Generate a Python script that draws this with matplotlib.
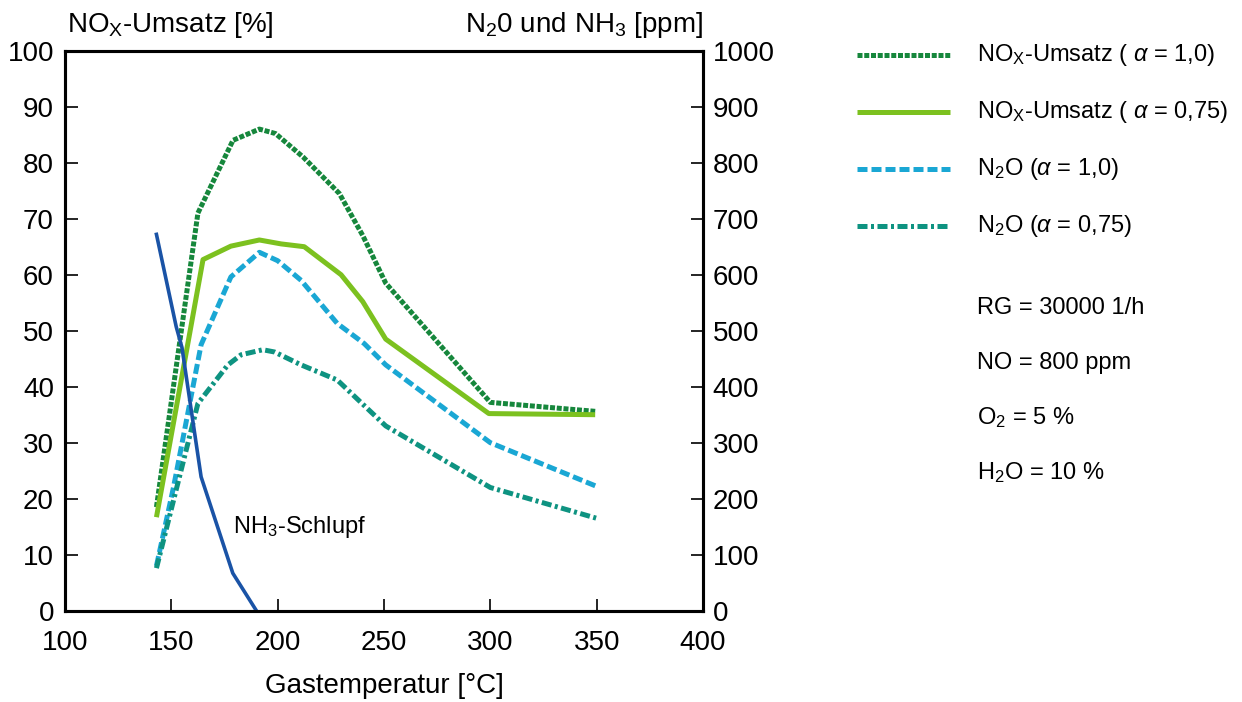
import matplotlib
matplotlib.use('Agg')
import matplotlib.pyplot as plt
from matplotlib.lines import Line2D

plt.rcParams['font.family'] = ['Liberation Sans', 'DejaVu Sans']
plt.rcParams['mathtext.fontset'] = 'custom'
plt.rcParams['mathtext.rm'] = 'Liberation Sans'
plt.rcParams['mathtext.it'] = 'Liberation Sans:italic'

# Gastemperatur [°C] and readings
nox_10_t = [143, 162.5, 179, 191.4, 199, 212, 229, 240, 250.8, 300, 349.3]
nox_10 = [18.5, 71, 84, 86, 85.2, 81, 74.5, 67, 58.5, 37.2, 35.6]

nox_075_t = [143, 164.9, 178, 191.4, 201.6, 212.5, 229.8, 240, 250.8, 299.3, 349.3]
nox_075 = [16.7, 62.7, 65.1, 66.2, 65.5, 65, 60, 55.2, 48.5, 35.2, 35.0]

# N2O in ppm
n2o_10_t = [143, 151, 164, 178, 191.4, 200, 211, 228, 240.7, 250.8, 300, 350]
n2o_10 = [80, 220, 475, 596, 640, 625, 590, 513, 477, 439, 300, 222]

n2o_075_t = [143, 162.5, 176.6, 182.8, 193, 198.5, 211, 228, 250.8, 300, 350]
n2o_075 = [76, 370, 439, 457, 466, 462, 439, 412, 330, 220, 165]

# NH3 slip in ppm
nh3_t = [143, 152.3, 155, 164, 178.9, 190]
nh3 = [672, 507, 470, 239, 67, 0]

x_ticks = [100, 150, 200, 250, 300, 350, 400]
left_ticks = list(range(0, 101, 10))
right_ticks = list(range(0, 1001, 100))

legend_labels = [r'NO$_\mathrm{X}$-Umsatz ( $\alpha$ = 1,0)',
                 r'NO$_\mathrm{X}$-Umsatz ( $\alpha$ = 0,75)',
                 r'N$_2$O ($\alpha$ = 1,0)',
                 r'N$_2$O ($\alpha$ = 0,75)']
cond_text = ['RG = 30000 1/h', 'NO = 800 ppm', r'O$_2$ = 5 %', r'H$_2$O = 10 %']

c_dark = '#16873c'
c_light = '#7cc11f'
c_cyan = '#1aa7d4'
c_teal = '#0e9381'
c_blue = '#1a53a6'

styles = [dict(color=c_dark, lw=3.6, dashes=(1, 0.35), dash_capstyle='butt'),
          dict(color=c_light, lw=3.6, solid_capstyle='butt'),
          dict(color=c_cyan, lw=3.6, dashes=(2, 0.8)),
          dict(color=c_teal, lw=3.6, dashes=(2, 0.7, 0.6, 0.7))]

fig = plt.figure(figsize=(12.42, 7.02), dpi=100)
ax = fig.add_axes([65 / 1242, (702 - 610.7) / 702, (703 - 65) / 1242, 560 / 702])
ax2 = ax.twinx()

ax.plot(nox_10_t, nox_10, **styles[0])
ax.plot(nox_075_t, nox_075, **styles[1])
ax2.plot(n2o_10_t, n2o_10, **styles[2])
ax2.plot(n2o_075_t, n2o_075, **styles[3])
ax2.plot(nh3_t, nh3, color=c_blue, lw=2.6)

ax.set_xlim(100, 400)
ax.set_ylim(0, 100)
ax2.set_ylim(0, 1000)
ax.set_xticks(x_ticks)
ax.set_yticks(left_ticks)
ax2.set_yticks(right_ticks)

for a in (ax, ax2):
    for s in a.spines.values():
        s.set_linewidth(2.2)
ax.tick_params(axis='both', direction='in', length=9, width=1.2, labelsize=20)
ax.tick_params(axis='x', pad=14)
ax.tick_params(axis='y', pad=8)
ax2.tick_params(axis='y', direction='in', length=9, width=1.2, labelsize=20, pad=7)

ax.set_xlabel('Gastemperatur [°C]', fontsize=20, labelpad=12)

fig.text(67 / 1242, 1 - 25 / 702, r'NO$_\mathrm{X}$-Umsatz [%]', fontsize=20,
         ha='left', va='center')
fig.text(703 / 1242, 1 - 25 / 702, r'N$_2$0 und NH$_3$ [ppm]', fontsize=20,
         ha='right', va='center')

ax.text(179, 15, r'NH$_3$-Schlupf', fontsize=17, ha='left', va='center')

# legend drawn by hand
for i, (lab, st) in enumerate(zip(legend_labels, styles)):
    yy = 1 - (55 + 57 * i) / 702
    fig.add_artist(Line2D([857 / 1242, 950 / 1242], [yy, yy], **st))
    fig.text(977 / 1242, yy, lab, fontsize=17, ha='left', va='center')

for i, t in enumerate(cond_text):
    fig.text(977 / 1242, 1 - (308 + 55 * i) / 702, t, fontsize=17,
             ha='left', va='center')

fig.savefig('out.png', dpi=100)
